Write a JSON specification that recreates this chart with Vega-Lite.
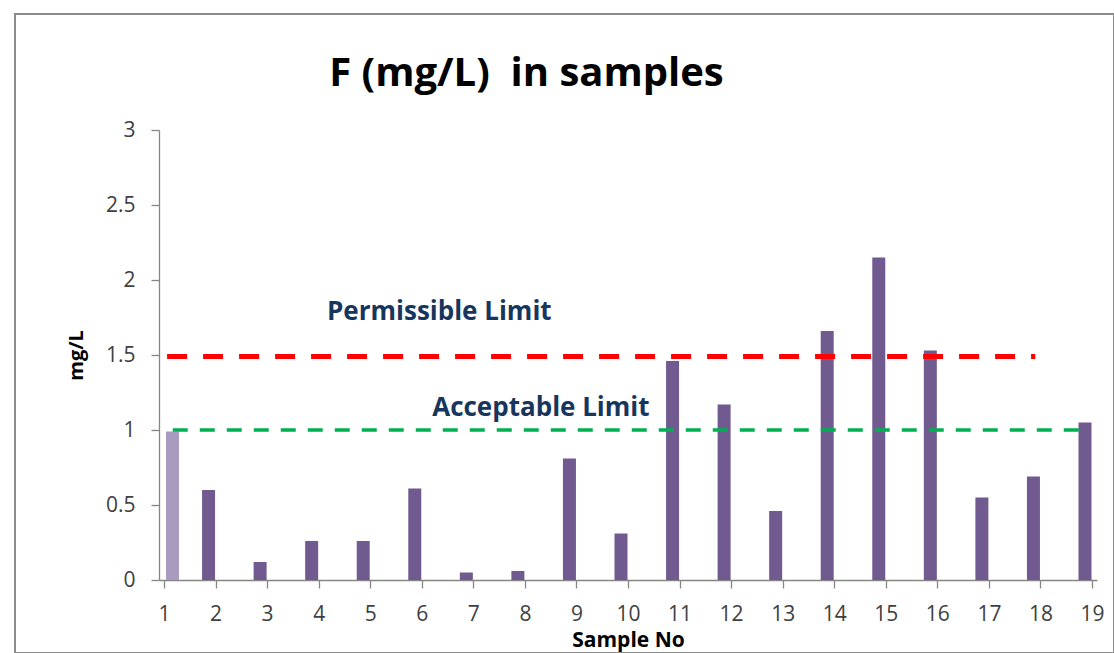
{
  "$schema": "https://vega.github.io/schema/vega-lite/v6.json",
  "width": 1099,
  "height": 639,
  "autosize": {"type": "none"},
  "padding": {"left": 15, "top": 14, "right": 0, "bottom": 0},
  "background": "white",
  "config": {"view": {"stroke": "#8c8c8c", "strokeWidth": 2}, "font": "Open Sans"},
  "title": {
    "text": "F (mg/L)\u00a0 in samples",
    "font": "Open Sans",
    "fontSize": 40,
    "fontWeight": "bold",
    "color": "#000000",
    "anchor": "middle",
    "frame": "group",
    "baseline": "middle",
    "offset": -100,
    "dx": -38
  },
  "datasets": {
    "samples": [
      {"sample": 1, "F": 0.99},
      {"sample": 2, "F": 0.60},
      {"sample": 3, "F": 0.12},
      {"sample": 4, "F": 0.26},
      {"sample": 5, "F": 0.26},
      {"sample": 6, "F": 0.61},
      {"sample": 7, "F": 0.05},
      {"sample": 8, "F": 0.06},
      {"sample": 9, "F": 0.81},
      {"sample": 10, "F": 0.31},
      {"sample": 11, "F": 1.46},
      {"sample": 12, "F": 1.17},
      {"sample": 13, "F": 0.46},
      {"sample": 14, "F": 1.66},
      {"sample": 15, "F": 2.15},
      {"sample": 16, "F": 1.53},
      {"sample": 17, "F": 0.55},
      {"sample": 18, "F": 0.69},
      {"sample": 19, "F": 1.05}
    ],
    "limits": [
      {"limit": "Permissible Limit", "from": 1.06, "to": 17.9, "value": 1.49},
      {"limit": "Acceptable Limit", "from": 1.17, "to": 18.89, "value": 1.0}
    ],
    "notes": [
      {"label": "Permissible Limit", "sx": 6.34, "sy": 1.79},
      {"label": "Acceptable Limit", "sx": 8.31, "sy": 1.15}
    ]
  },
  "encoding": {
    "x": {
      "type": "quantitative",
      "title": "Sample No",
      "scale": {"domain": [1, 19], "range": [144, 1082], "zero": false, "nice": false},
      "axis": {
        "values": [1,2,3,4,5,6,7,8,9,10,11,12,13,14,15,16,17,18,19],
        "format": "d", "grid": false, "offset": -73,
        "labelFont": "Open Sans", "labelFontSize": 21, "labelColor": "#404040", "labelPadding": 15,
        "labelFlush": false, "labelOverlap": false,
        "tickSize": 8, "tickColor": "#868686", "tickWidth": 1.3,
        "domainColor": "#868686", "domainWidth": 1.3,
        "titleFont": "Open Sans", "titleFontSize": 21, "titleFontWeight": "bold",
        "titleColor": "#000000", "titlePadding": 5
      }
    },
    "y": {
      "type": "quantitative",
      "title": "mg/L",
      "scale": {"domain": [0, 3], "range": [566, 116], "nice": false},
      "axis": {
        "values": [0, 0.5, 1, 1.5, 2, 2.5, 3],
        "format": "~g",
        "grid": false, "offset": -144,
        "labelFont": "Open Sans", "labelFontSize": 21, "labelColor": "#404040", "labelPadding": 16,
        "tickSize": 8, "tickColor": "#868686", "tickWidth": 1.3,
        "domainColor": "#868686", "domainWidth": 1.3,
        "titleFont": "Open Sans", "titleFontSize": 20, "titleFontWeight": "bold",
        "titleColor": "#000000", "titlePadding": 19
      }
    }
  },
  "layer": [
    {
      "data": {"name": "samples"},
      "transform": [{"filter": "datum.sample > 1"}],
      "mark": {"type": "bar", "size": 13, "color": "#715a8f", "xOffset": -7},
      "encoding": {
        "x": {"field": "sample"},
        "y": {"field": "F"}
      }
    },
    {
      "data": {"name": "samples"},
      "transform": [{"filter": "datum.sample == 1"}],
      "mark": {"type": "bar", "size": 13, "color": "#a99bc0", "xOffset": 8.5},
      "encoding": {
        "x": {"field": "sample"},
        "y": {"field": "F"}
      }
    },
    {
      "data": {"name": "limits"},
      "transform": [{"filter": "datum.limit == 'Permissible Limit'"}],
      "mark": {"type": "rule", "color": "#ff0000", "strokeWidth": 5, "strokeDash": [20, 16]},
      "encoding": {
        "x": {"field": "from"},
        "x2": {"field": "to"},
        "y": {"field": "value"}
      }
    },
    {
      "data": {"name": "limits"},
      "transform": [{"filter": "datum.limit == 'Acceptable Limit'"}],
      "mark": {"type": "rule", "color": "#00b050", "strokeWidth": 3.5, "strokeDash": [15, 12]},
      "encoding": {
        "x": {"field": "from"},
        "x2": {"field": "to"},
        "y": {"field": "value"}
      }
    },
    {
      "data": {"name": "notes"},
      "mark": {"type": "text", "font": "Open Sans", "fontSize": 26, "fontWeight": "bold", "color": "#17365d", "align": "center", "baseline": "middle"},
      "encoding": {
        "x": {"field": "sx"},
        "y": {"field": "sy"},
        "text": {"field": "label"}
      }
    }
  ]
}
